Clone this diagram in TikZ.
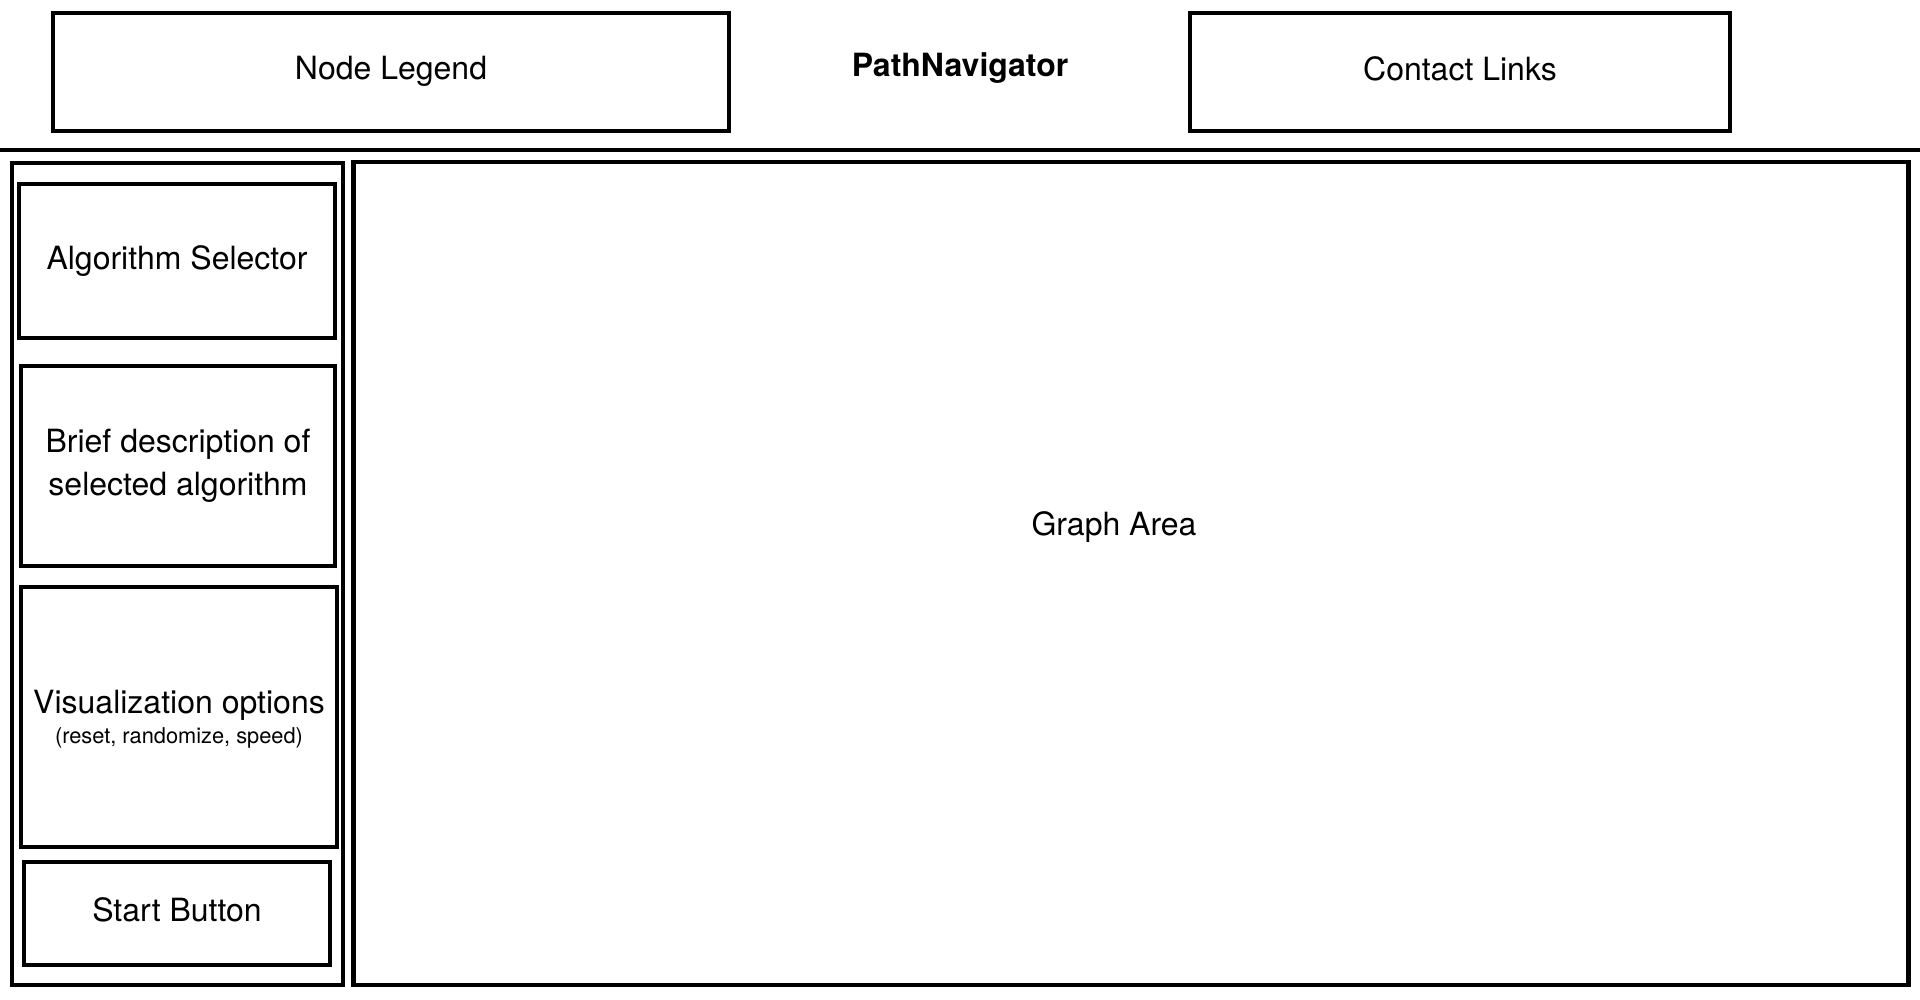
\documentclass[tikz,border=0pt]{standalone}
\usepackage{fontspec}
\setmainfont{TeX Gyre Heros}
\begin{document}
\begin{tikzpicture}[
  x=0.01cm, y=-0.01cm,
  every node/.style={align=center,inner sep=0pt,font=\fontsize{9.1}{12.2}\selectfont},
  panel/.style={draw,line width=1.25pt,text depth=0.22em}
]
\useasboundingbox (0,0) rectangle (1920,1000);
\node[panel,minimum width=6.76cm,minimum height=1.18cm] (legend) at (391,72) {Node Legend};
\node[font=\fontsize{9.1}{12.2}\selectfont\bfseries] (title) at (960,68) {PathNavigator};
\node[panel,minimum width=5.40cm,minimum height=1.18cm] (contact) at (1460,72) {Contact Links};
\coordinate (ruleL) at (0,150);
\coordinate (ruleR) at (1920,150);
\draw[line width=1.25pt] (ruleL) -- (ruleR);
\node[panel,minimum width=3.31cm,minimum height=8.22cm] (sidebar) at (177.5,574) {};
\node[panel,minimum width=3.16cm,minimum height=1.54cm] (selector) at (177,261) {Algorithm Selector};
\node[panel,minimum width=3.14cm,minimum height=2.00cm] (descr) at (178,466) {Brief description of\\selected algorithm};
\node[panel,minimum width=3.16cm,minimum height=2.60cm,text depth=0pt] (visopts) at (179,717)
  {Visualization options\\[-3.5pt]{\fontsize{6.2}{7.5}\selectfont(reset, randomize, speed)}};
\node[panel,minimum width=3.06cm,minimum height=1.03cm] (start) at (177,913.5) {Start Button};
\node[panel,minimum width=15.54cm,minimum height=8.23cm] (graph) at (1131,573.5) {};
\node (graphtxt) at (1114,527) {Graph Area};
\end{tikzpicture}
\end{document}
